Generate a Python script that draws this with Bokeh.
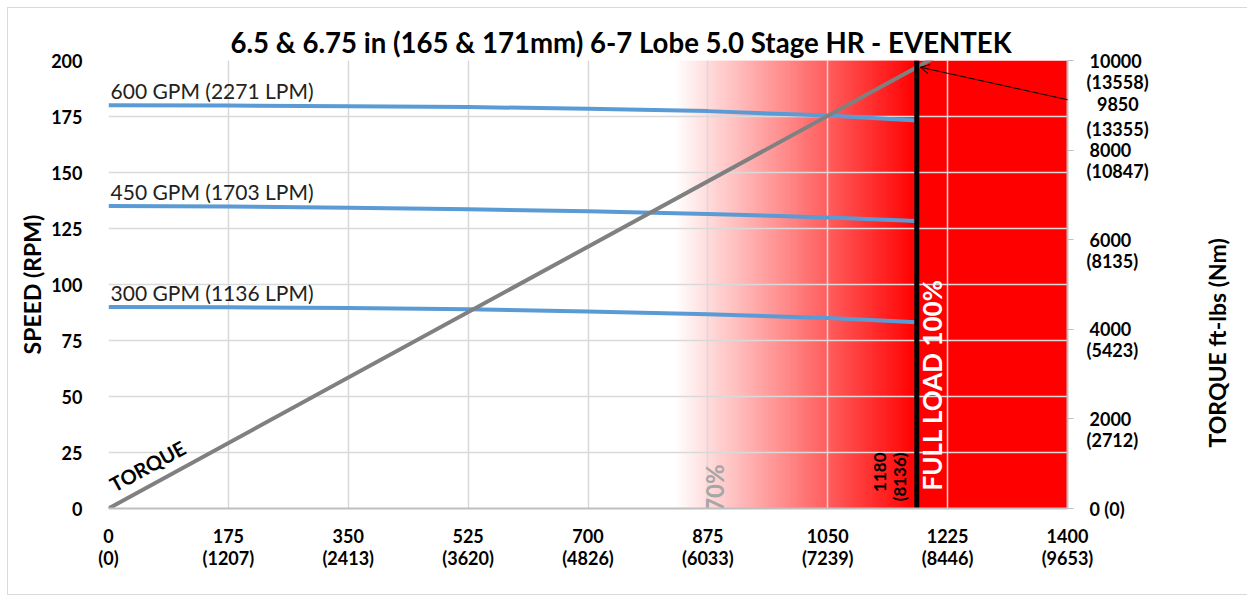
import math
import numpy as np
from bokeh.plotting import figure
from bokeh.models import Range1d, LinearAxis, FixedTicker, Arrow, OpenHead
from bokeh.core.properties import value
from bokeh.embed import file_html
from bokeh.resources import INLINE

# ---------------- data ----------------
title_text = "6.5 & 6.75 in (165 & 171mm) 6-7 Lobe 5.0 Stage HR - EVENTEK"
pressure_psi = [0, 175, 350, 525, 700, 875, 1050, 1180]
rpm_600 = [180.0, 179.9, 179.6, 179.2, 178.5, 177.4, 175.4, 173.2]
rpm_450 = [135.0, 134.8, 134.3, 133.6, 132.7, 131.5, 129.9, 128.3]
rpm_300 = [90.0, 89.8, 89.5, 88.9, 88.0, 86.7, 85.0, 83.2]
flow_labels = ["600 GPM (2271 LPM)", "450 GPM (1703 LPM)", "300 GPM (1136 LPM)"]

torque_psi = [0, 1180, 1210]
torque_ftlb = [0, 9850, 10100]

x_ticks = [0, 175, 350, 525, 700, 875, 1050, 1225, 1400]
x_tick_kpa = ["(0)", "(1207)", "(2413)", "(3620)", "(4826)", "(6033)", "(7239)", "(8446)", "(9653)"]
y_ticks = [0, 25, 50, 75, 100, 125, 150, 175, 200]
torque_ticks = [0, 2000, 4000, 6000, 8000, 10000]
torque_tick_ftlb = ["0", "2000", "4000", "6000", "8000", "10000"]
torque_tick_nm = ["(0)", "(2712)", "(5423)", "(8135)", "(10847)", "(13558)"]
right_axis_title = "TORQUE ft-lbs (Nm)"

full_load_psi = 1180
full_load_kpa_label = "(8136)"
full_load_torque = 9850
full_load_torque_nm = "(13355)"
gradient_start_psi = 826  # 70 % of full load
seventy_label = "70%"
full_load_label = "FULL LOAD 100%"
torque_line_label = "TORQUE"

FONT = "Lato"
FRAME_H = 448          # frame height in px (586 - 52 - 86)
NM_DROP = 21           # px the (Nm) line sits below its ft-lbs line
NOTE_DROP = [43, 68]   # px below the top tick for the 9850 / (13355) note
RIGHT_TITLE_START = 61 # px above frame bottom where the right axis title starts

# ---------------- figure ----------------
p = figure(width=1239, height=586, x_range=Range1d(0, 1400), y_range=Range1d(0, 200),
           output_backend="svg", toolbar_location=None,
           min_border_left=100, min_border_right=179, min_border_top=52, min_border_bottom=86)
tmax = torque_ticks[-1]
shift = NM_DROP / FRAME_H * tmax
p.extra_y_ranges = {"torque": Range1d(0, tmax), "torque_nm": Range1d(shift, tmax + shift)}
p.styles = {"margin-left": "8px", "margin-top": "8px", "outline": "1px solid #d9d9d9"}
p.outline_line_color = None
p.background_fill_color = "white"
p.border_fill_color = "white"

p.title.text = title_text
p.title.align = "left"
p.title.offset = 122
p.title.text_font = FONT
p.title.text_font_size = "27.6px"
p.title.text_font_style = "bold"
p.title.text_color = "black"
p.title.standoff = 3

# gradient background (70% -> 100%) and solid red zone
n = 260
edges = np.linspace(gradient_start_psi, full_load_psi, n + 1)
t = (np.arange(n) + 0.5) / n
cols = ["#%02x%02x%02x" % (255, int(round(255 * (1 - v))), int(round(255 * (1 - v)))) for v in t]
gq = p.quad(left=edges[:-1], right=edges[1:] + 1.2, bottom=0, top=200, fill_color=cols, line_color=None)
gq.level = "underlay"
rq = p.quad(left=[full_load_psi], right=[x_ticks[-1]], bottom=[0], top=[200], fill_color="#ff0000", line_color=None)
rq.level = "underlay"

# grid
p.xgrid.ticker = FixedTicker(ticks=x_ticks)
p.ygrid.ticker = FixedTicker(ticks=y_ticks)
p.xgrid.grid_line_color = "#d9d9d9"
p.ygrid.grid_line_color = "#d9d9d9"
p.xgrid.grid_line_width = 1.5
p.ygrid.grid_line_width = 1.5

# axes
xa = p.xaxis[0]
xa.ticker = FixedTicker(ticks=x_ticks)
xa.major_label_overrides = {tk: f"{tk}\n{kp}" for tk, kp in zip(x_ticks, x_tick_kpa)}
ya = p.yaxis[0]
ya.ticker = FixedTicker(ticks=y_ticks)
ya.axis_label = "SPEED (RPM)"

# right axis 1: ft-lbs values
ra = LinearAxis(y_range_name="torque", ticker=FixedTicker(ticks=torque_ticks),
                major_label_overrides={tk: (f"{fl} {nm}" if tk == 0 else fl)
                                       for tk, fl, nm in zip(torque_ticks, torque_tick_ftlb, torque_tick_nm)})
p.add_layout(ra, "right")

# right axis 2: (Nm) values below each ft-lbs value, plus the 9850 note
note_pos = [tmax - d / FRAME_H * tmax + shift for d in NOTE_DROP]
nm_ticks = torque_ticks[1:] + note_pos
nm_labels = {tk: nm for tk, nm in zip(torque_ticks[1:], torque_tick_nm[1:])}
nm_labels[note_pos[0]] = "\u2007" + str(full_load_torque)
nm_labels[note_pos[1]] = full_load_torque_nm
ra2 = LinearAxis(y_range_name="torque_nm", ticker=FixedTicker(ticks=nm_ticks), major_label_overrides=nm_labels)
p.add_layout(ra2, "right")

# right axis 3: axis title (reading bottom to top)
title_pos = RIGHT_TITLE_START / FRAME_H * tmax
ra3 = LinearAxis(y_range_name="torque", ticker=FixedTicker(ticks=[title_pos]),
                 major_label_overrides={title_pos: right_axis_title},
                 major_label_orientation=math.pi / 2)
p.add_layout(ra3, "right")

for ax in (xa, ya, ra, ra2):
    ax.major_label_text_font = FONT
    ax.major_label_text_font_style = "bold"
    ax.major_label_text_font_size = "18px"
    ax.major_label_text_color = "black"
for ax in (xa, ya, ra, ra2, ra3):
    ax.axis_label_text_font = FONT
    ax.axis_label_text_font_style = "bold"
    ax.axis_label_text_font_size = "23px"
    ax.axis_label_text_color = "black"
    ax.minor_tick_line_color = None
    ax.major_tick_in = 0

xa.axis_line_color = "#bfbfbf"
xa.axis_line_width = 2
xa.major_tick_line_color = None
xa.major_label_standoff = 10
xa.major_label_text_line_height = 1.0
ya.axis_line_color = None
ya.major_tick_line_color = None
ya.major_label_standoff = 20
ya.axis_label_standoff = 2
ra.axis_line_color = "#bfbfbf"
ra.axis_line_width = 2
ra.major_tick_line_color = "#bfbfbf"
ra.major_tick_out = 6
ra.major_label_standoff = 16
ra2.axis_line_color = None
ra2.major_tick_line_color = None
ra2.major_tick_out = 0
ra2.major_label_standoff = -58
ra3.axis_line_color = None
ra3.major_tick_line_color = None
ra3.major_tick_out = 0
ra3.major_label_standoff = 65
ra3.major_label_text_font = FONT
ra3.major_label_text_font_style = "bold"
ra3.major_label_text_font_size = "23px"
ra3.major_label_text_color = "black"

# flow lines
for rpm in (rpm_600, rpm_450, rpm_300):
    p.line(pressure_psi, rpm, line_color="#5b9bd5", line_width=4)
p.text(x=[3, 3, 3], y=[rpm_600[0] + 1.0, rpm_450[0] + 1.0, rpm_300[0] + 1.0], text=flow_labels,
       text_font=value(FONT), text_font_size="21px", text_color="#222222", text_baseline="bottom")

# torque line
p.line(torque_psi, torque_ftlb, y_range_name="torque", line_color="#808080", line_width=4)
p.text(x=[12], y=[5.5], text=[torque_line_label], angle=0.50, text_font=value(FONT),
       text_font_size="20px", text_font_style="bold", text_color="black", text_baseline="bottom")

# full-load line
p.segment(x0=[full_load_psi], y0=[0], x1=[full_load_psi], y1=[200], line_color="black", line_width=5)

# rotated labels
p.text(x=[885], y=[-1.5], text=[seventy_label], angle=np.pi / 2, text_font=value(FONT),
       text_font_size="24px", text_font_style="bold", text_color="#a6a6a6", text_baseline="middle")
p.text(x=[1202], y=[8], text=[full_load_label], angle=np.pi / 2, text_font=value(FONT),
       text_font_size="26px", text_font_style="bold", text_color="white", text_baseline="middle")
p.text(x=[1127, 1155], y=[25, 25], text=[str(full_load_psi), full_load_kpa_label], angle=np.pi / 2,
       text_font=value(FONT), text_font_size="17px", text_font_style="bold", text_color="black",
       text_baseline="middle", text_align="right")

# arrow from the 9850 annotation to the torque line
p.add_layout(Arrow(x_start=1425, y_start=9040, x_end=full_load_psi + 5, y_end=full_load_torque,
                   y_range_name="torque", line_color="black", line_width=1,
                   end=OpenHead(size=9, line_color="black", line_width=1)))

open("out.html", "w").write(file_html(p, INLINE))
